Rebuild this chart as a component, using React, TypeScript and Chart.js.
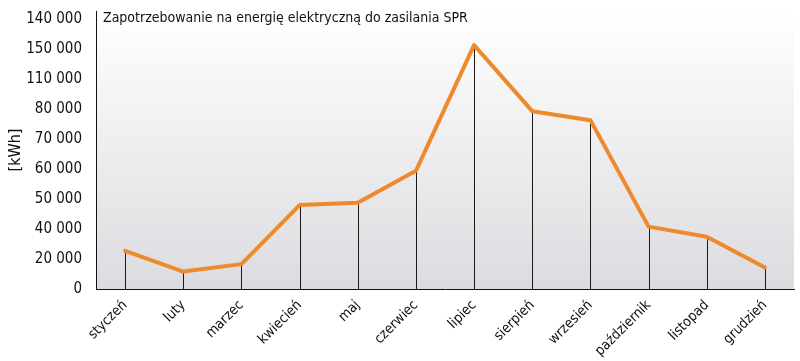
import React, { useEffect, useRef } from "react";
import { Chart, registerables } from "chart.js";

Chart.register(...registerables);

const TITLE = "Zapotrzebowanie na energię elektryczną do zasilania SPR";
const Y_TITLE = "[kWh]";
const months = [
  "styczeń", "luty", "marzec", "kwiecień", "maj", "czerwiec",
  "lipiec", "sierpień", "wrzesień", "październik", "listopad", "grudzień",
];
// tick labels as printed on the axis, from bottom (position 0) to top
const yTickLabels = [
  "0", "20 000", "40 000", "50 000", "60 000", "70 000",
  "80 000", "110 000", "150 000", "140 000",
];
// values expressed in axis positions (one unit = one printed tick step)
const demand = [1.27, 0.58, 0.83, 2.8, 2.88, 3.94, 8.13, 5.93, 5.63, 2.08, 1.74, 0.72];

const FONT = "'Liberation Sans Narrow', 'DejaVu Sans Condensed', 'Roboto', sans-serif";

const bgPlugin = {
  id: "bgGrad",
  beforeDraw(chart: any) {
    const { ctx, chartArea } = chart;
    if (!chartArea) return;
    const g = ctx.createLinearGradient(0, chartArea.top, 0, chartArea.bottom);
    g.addColorStop(0, "#ffffff");
    g.addColorStop(1, "#dcdce0");
    ctx.save();
    ctx.fillStyle = g;
    ctx.fillRect(chartArea.left, chartArea.top, chartArea.right - chartArea.left, chartArea.bottom - chartArea.top);
    ctx.restore();
  },
  beforeDatasetsDraw(chart: any) {
    const { ctx, chartArea, scales } = chart;
    const meta = chart.getDatasetMeta(0);
    ctx.save();
    ctx.strokeStyle = "#1a1a1a";
    ctx.lineWidth = 1;
    meta.data.forEach((pt: any) => {
      const x = Math.round(pt.x) + 0.5;
      ctx.beginPath();
      ctx.moveTo(x, pt.y);
      ctx.lineTo(x, scales.y.getPixelForValue(0));
      ctx.stroke();
    });
    ctx.fillStyle = "#111";
    ctx.font = `14px ${FONT}`;
    ctx.textBaseline = "middle";
    ctx.textAlign = "left";
    ctx.fillText(TITLE, chartArea.left + 7, chartArea.top + 7);
    ctx.restore();
  },
};

export default function App() {
  const ref = useRef<HTMLCanvasElement>(null);
  useEffect(() => {
    if (!ref.current) return;
    const chart = new Chart(ref.current, {
      type: "line",
      data: {
        labels: months,
        datasets: [
          {
            data: demand,
            borderColor: "#ef8a2c",
            borderWidth: 4,
            pointRadius: 0,
            tension: 0,
            borderJoinStyle: "round",
            borderCapStyle: "round",
          },
        ],
      },
      options: {
        animation: false,
        responsive: false,
        layout: { padding: { top: 11, right: 6, left: 0, bottom: 0 } },
        plugins: { legend: { display: false }, tooltip: { enabled: false } },
        scales: {
          x: {
            offset: true,
            grid: { display: false, drawTicks: false },
            border: { display: true, color: "#111", width: 1 },
            ticks: {
              color: "#111",
              font: { family: FONT, size: 14 },
              minRotation: 45,
              maxRotation: 45,
              padding: 8,
              autoSkip: false,
            },
            afterFit(scale: any) {
              scale.height = 72;
              scale.paddingLeft = 0;
              scale.paddingRight = 0;
            },
          },
          y: {
            min: 0,
            max: 9.27,
            grid: { display: false, drawTicks: false },
            border: { display: true, color: "#111", width: 1 },
            ticks: {
              stepSize: 1,
              includeBounds: false,
              color: "#111",
              font: { family: FONT, size: 15 },
              padding: 14,
              callback: (v: any) => {
                const i = Math.round(Number(v));
                return Math.abs(Number(v) - i) < 1e-6 ? yTickLabels[i] ?? "" : "";
              },
            },
            title: {
              display: true,
              text: Y_TITLE,
              color: "#111",
              font: { family: FONT, size: 16 },
              padding: { top: 6, bottom: 0 },
            },
            afterFit(scale: any) {
              scale.width = 96;
              scale.paddingTop = 0;
              scale.paddingBottom = 0;
            },
          },
        },
      },
      plugins: [bgPlugin],
    });
    return () => chart.destroy();
  }, []);
  return (
    <div style={{ position: "fixed", left: 0, top: 0, width: 800, height: 361, background: "#fff" }}>
      <canvas ref={ref} width={800} height={361} style={{ display: "block" }} />
    </div>
  );
}
